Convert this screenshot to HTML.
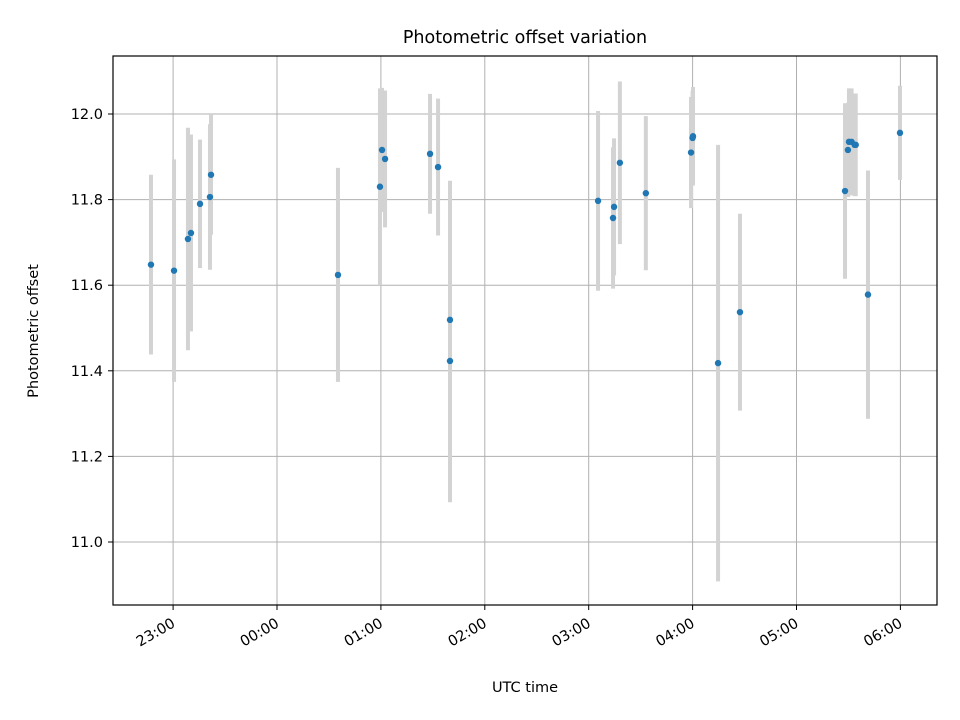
<!DOCTYPE html>
<html><head><meta charset="utf-8"><style>
body{margin:0;background:#fff;}
svg{display:block;font-family:"DejaVu Sans","Liberation Sans",sans-serif;}
</style></head><body>
<svg id="chart" width="960" height="720">
<rect x="0" y="0" width="960" height="720" fill="#fff"/>
<g id="grid"></g><g id="bars"></g><g id="dots"></g><g id="ticks"></g>
<rect x="113" y="56" width="824" height="549" fill="none" stroke="#000" stroke-width="1.2"/>
<text x="525" y="43" text-anchor="middle" font-size="17.5">Photometric offset variation</text>
<text x="525" y="692" text-anchor="middle" font-size="14.5">UTC time</text>
<text transform="translate(38,331) rotate(-90)" text-anchor="middle" font-size="14.5">Photometric offset</text>
</svg>
<script>
// hours relative to 00:00 UTC
const times=[-1.213,-0.991,-0.857,-0.828,-0.741,-0.645,-0.635,0.587,0.991,1.011,1.040,1.473,1.550,1.665,1.665,3.090,3.234,3.244,3.300,3.550,3.985,4.000,4.004,4.245,4.456,5.467,5.495,5.505,5.530,5.560,5.570,5.688,5.996];
const offsets=[11.648,11.634,11.708,11.722,11.790,11.806,11.858,11.624,11.830,11.916,11.895,11.907,11.876,11.519,11.423,11.797,11.757,11.783,11.886,11.815,11.910,11.944,11.948,11.418,11.537,11.820,11.916,11.935,11.935,11.928,11.928,11.578,11.956];
const errors=[0.21,0.26,0.26,0.23,0.15,0.17,0.14,0.25,0.23,0.145,0.16,0.14,0.16,0.325,0.33,0.21,0.165,0.16,0.19,0.18,0.13,0.11,0.115,0.51,0.23,0.205,0.11,0.125,0.125,0.12,0.12,0.29,0.11];
const yTicks=[11.0,11.2,11.4,11.6,11.8,12.0];
const xTicks=[-1,0,1,2,3,4,5,6];
const xTickLabels=["23:00","00:00","01:00","02:00","03:00","04:00","05:00","06:00"];
const NS="http://www.w3.org/2000/svg";
const X=h=>277+h*103.9;
const Y=v=>114+(12-v)*428;
function mk(tag,attrs,parent){const e=document.createElementNS(NS,tag);for(const k in attrs)e.setAttribute(k,attrs[k]);document.getElementById(parent).appendChild(e);return e;}
yTicks.forEach((v,i)=>{
 const g=mk('line',{x1:113,x2:937,y1:Y(v),y2:Y(v),stroke:'#b0b0b0','stroke-width':1},'grid');
 
 
 const t=mk('line',{x1:108,x2:113,y1:Y(v),y2:Y(v),stroke:'#000'},'ticks');
 
 
 const l=mk('text',{x:103,y:Y(v)+5,'text-anchor':'end','font-size':14.5},'ticks');
 l.textContent=v.toFixed(1);
 
 
});
xTicks.forEach((h,i)=>{
 const g=mk('line',{x1:X(h),x2:X(h),y1:56,y2:605,stroke:'#b0b0b0','stroke-width':1},'grid');
 
 
 const t=mk('line',{x1:X(h),x2:X(h),y1:605,y2:610,stroke:'#000'},'ticks');
 
 
 const l=mk('text',{'text-anchor':'end','font-size':14.5,transform:`translate(${X(h)+3},${626}) rotate(-30)`},'ticks');
 l.textContent=xTickLabels[i];
 
 
});
times.forEach((h,i)=>{
 const b=mk('line',{x1:X(h),x2:X(h),y1:Y(offsets[i]+errors[i]),y2:Y(offsets[i]-errors[i]),stroke:'#d3d3d3','stroke-width':4},'bars');
 
 
});
times.forEach((h,i)=>{
 const d=mk('circle',{cx:X(h),cy:Y(offsets[i]),r:3.2,fill:'#1f77b4'},'dots');
 
 
});
</script>
</body></html>
